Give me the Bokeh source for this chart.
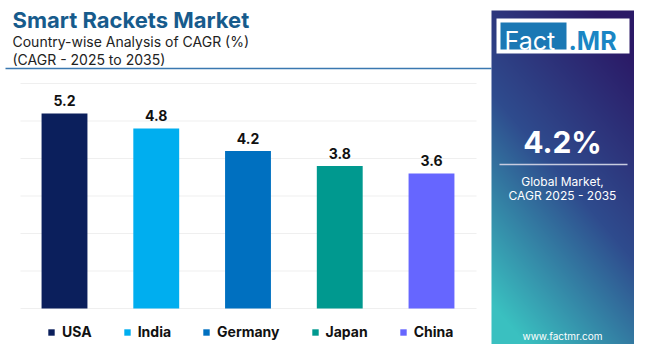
import numpy as np
from bokeh.plotting import figure
from bokeh.models import Range1d, ColumnDataSource, Legend, LegendItem
from bokeh.core.properties import value
from bokeh.embed import file_html
from bokeh.resources import INLINE

# ---- data ----
countries = ["USA", "India", "Germany", "Japan", "China"]
cagr = [5.2, 4.8, 4.2, 3.8, 3.6]
bar_colors = ["#0b1f5c", "#00aeef", "#0070c0", "#00998f", "#6666ff"]
y_ticks = [0, 1, 2, 3, 4, 5, 6]
title_text = "Smart Rackets Market"
subtitle_1 = "Country-wise Analysis of CAGR (%)"
subtitle_2 = "(CAGR - 2025 to 2035)"
global_value = "4.2%"
global_label_1 = "Global Market,"
global_label_2 = "CAGR 2025 - 2035"
website = "www.factmr.com"

# ---- layout ----
W, H = 634, 344
X0, XS = 64.0, 91.75      # pixel of first bar centre, pixels per category
Y0, YS = 36.0, 37.5       # baseline pixel from bottom, pixels per CAGR unit
FONT = "Inter"

p = figure(width=W, height=H, output_backend="svg", toolbar_location=None,
           x_range=Range1d(-X0 / XS, (W - X0) / XS),
           y_range=Range1d(-Y0 / YS, (H - Y0) / YS),
           x_axis_location=None, y_axis_location=None,
           min_border=0, min_border_left=0, min_border_right=0,
           min_border_top=0, min_border_bottom=0)
p.grid.visible = False
p.outline_line_color = None
p.background_fill_color = "white"
p.border_fill_color = "white"
p.extra_x_ranges = {"px": Range1d(0, W)}
p.extra_y_ranges = {"px": Range1d(0, H)}


def txt(x, ytop, s, size, color, bold=False, align="left", font=FONT):
    y = ytop - 0.22 * size   # compensate renderer baseline placement
    p.text(x=[x], y=[H - y], text=[s], x_range_name="px", y_range_name="px",
           text_font=value(font), text_font_size=f"{size}px",
           text_font_style="bold" if bold else "normal",
           text_color=color, text_align=align, text_baseline="alphabetic")


# gridlines (light)
p.segment(x0=[20] * len(y_ticks), x1=[476] * len(y_ticks), y0=y_ticks, y1=y_ticks,
          x_range_name="px", line_color="#efefef", line_width=1)

# bars
src = ColumnDataSource(dict(x=list(range(len(countries))), top=cagr,
                            country=countries, color=bar_colors,
                            lab=[f"{v:.1f}" for v in cagr]))
bars = p.vbar(x="x", top="top", width=0.5, bottom=0, fill_color="color",
              line_color=None, source=src)
p.text(x="x", y="top", text="lab", source=src, y_offset=-13,
       text_font=value(FONT), text_font_style="bold", text_font_size="14px",
       text_color="#111111", text_align="center", text_baseline="alphabetic")

legend = Legend(items=[LegendItem(label=c, renderers=[bars], index=i)
                       for i, c in enumerate(countries)],
                orientation="horizontal", location=(47, 4),
                glyph_width=8, glyph_height=8, label_standoff=7, spacing=31,
                padding=0, margin=0, label_height=16,
                border_line_alpha=0, background_fill_alpha=0,
                label_text_font=FONT, label_text_font_style="bold",
                label_text_font_size="14px", label_text_color="#111111")
p.add_layout(legend)

# titles
txt(12, 24, title_text, 22, "#175b8c", bold=True)
txt(12, 44, subtitle_1, 14, "#222222")
txt(12, 62, subtitle_2, 14, "#222222")
p.segment(x0=[5], x1=[491], y0=[H - 68], y1=[H - 68], x_range_name="px",
          y_range_name="px", line_color="#3a78b0", line_width=1.5)

# right gradient panel
px0, px1, pt, pb = 491, 634, 10, 344
pw, ph = px1 - px0, pb - pt
stops = np.array([[0x2b, 0x19, 0x66], [0x2f, 0x4c, 0x8e], [0x3a, 0xc0, 0xc0]], float)
yy, xx = np.mgrid[0:ph, 0:pw]            # row 0 = bottom
t_top = 1.0 - yy / (ph - 1)              # 0 at top, 1 at bottom
t = np.clip(0.8 * t_top + 0.4 * (1 - xx / (pw - 1)) - 0.1, 0, 1)
rgb = np.where(t[..., None] < 0.5,
               stops[0] + (stops[1] - stops[0]) * (t[..., None] / 0.5),
               stops[1] + (stops[2] - stops[1]) * ((t[..., None] - 0.5) / 0.5))
img = np.empty((ph, pw), dtype=np.uint32)
view = img.view(dtype=np.uint8).reshape((ph, pw, 4))
view[..., 0] = rgb[..., 0]
view[..., 1] = rgb[..., 1]
view[..., 2] = rgb[..., 2]
view[..., 3] = 255
p.image_rgba(image=[img], x=px0, y=H - pb, dw=pw, dh=ph,
             x_range_name="px", y_range_name="px")

# logo
p.quad(left=[496], right=[629], top=[H - 18], bottom=[H - 53],
       x_range_name="px", y_range_name="px", fill_color="white", line_color=None)
p.quad(left=[500], right=[566], top=[H - 22], bottom=[H - 49],
       x_range_name="px", y_range_name="px", fill_color="#1b78b4", line_color=None)
txt(504, 46, "Fact", 25, "white")
txt(568, 46, ".MR", 25, "#1a86c4", bold=True)

cx = 562
txt(cx, 148, global_value, 30, "white", bold=True, align="center")
p.segment(x0=[499], x1=[627], y0=[H - 164], y1=[H - 164], x_range_name="px",
          y_range_name="px", line_color="#c8cce0", line_width=1.5)
txt(cx, 184, global_label_1, 12, "white", align="center")
txt(cx, 198, global_label_2, 12, "white", align="center")
txt(cx, 338, website, 10, "white", align="center")

open("out.html", "w").write(file_html(p, INLINE))
